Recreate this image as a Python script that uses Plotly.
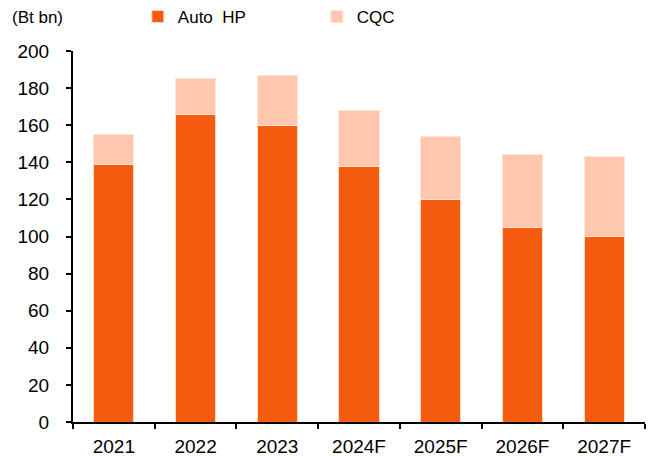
import plotly.graph_objects as go

years = ["2021", "2022", "2023", "2024F", "2025F", "2026F", "2027F"]
auto_hp = [139, 166, 160, 138, 120, 105, 100]
cqc_total = [155, 185, 187, 168, 154, 144, 143]
cqc = [t - a for t, a in zip(cqc_total, auto_hp)]
y_ticks = [0, 20, 40, 60, 80, 100, 120, 140, 160, 180, 200]

FONT = "Liberation Sans, Arial, sans-serif"

fig = go.Figure()
fig.add_trace(go.Bar(x=years, y=auto_hp, name="Auto  HP",
                     marker=dict(color="#F45B0E", line=dict(color="#FBD9C8", width=1))))
fig.add_trace(go.Bar(x=years, y=cqc, name="CQC",
                     marker=dict(color="#FFC7AE", line=dict(color="#FFE3D6", width=1))))

# page body has an 8px default margin, so the figure is 646x448
fig.update_layout(
    barmode="stack",
    bargap=0.51,
    width=646, height=448,
    margin=dict(l=65, r=9, t=43, b=34),
    paper_bgcolor="white", plot_bgcolor="white",
    font=dict(family=FONT, size=19, color="black"),
    showlegend=True,
    legend=dict(orientation="h", x=0.201, xref="container", y=0.98, yref="container",
                xanchor="left", yanchor="middle",
                entrywidth=134, entrywidthmode="pixels",
                font=dict(size=17), itemclick=False, traceorder="normal"),
    annotations=[dict(text="(Bt bn)", x=-0.110, y=1.089, xref="paper", yref="paper",
                      xanchor="left", yanchor="middle", showarrow=False,
                      font=dict(size=17))],
)

fig.update_yaxes(range=[0, 200], tickvals=y_ticks, showline=True, linecolor="black",
                 linewidth=2, ticks="outside", ticklen=5, tickwidth=2, tickcolor="black",
                 showgrid=False, zeroline=False, automargin=False, ticklabelstandoff=13)
fig.update_xaxes(showline=True, linecolor="black", linewidth=2, ticks="outside",
                 tickson="boundaries", ticklen=5, tickwidth=2, tickcolor="black",
                 showgrid=False, automargin=False, ticklabelstandoff=6)

fig.write_html("out.html")
